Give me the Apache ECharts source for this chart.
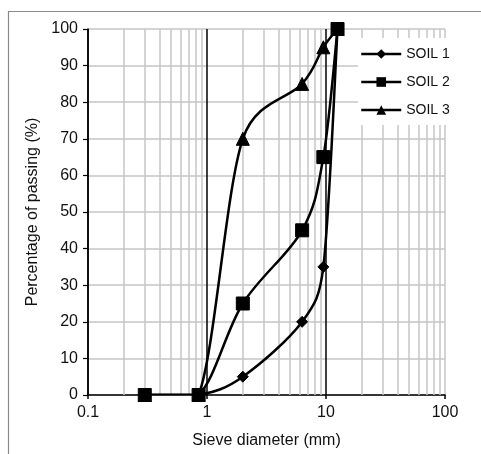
<!DOCTYPE html>
<html>
<head>
<meta charset="utf-8">
<script src="https://cdn.jsdelivr.net/npm/echarts@6/dist/echarts.min.js"></script>
<style>
html,body{margin:0;padding:0;background:#fff;}
#c{width:481px;height:454px;}
</style>
</head>
<body>
<div id="c"></div>
<script>
// ---- data ----
const sieveSizes = [0.3, 0.85, 2, 6.3, 9.5, 12.5];
const soil1 = [0, 0, 5, 20, 35, 100];
const soil2 = [0, 0, 25, 45, 65, 100];
const soil3 = [0, 0, 70, 85, 95, 100];
const seriesNames = ['SOIL 1', 'SOIL 2', 'SOIL 3'];
const xMajorTicks = [0.1, 1, 10, 100];
const xMinorTicks = [0.2,0.3,0.4,0.5,0.6,0.7,0.8,0.9,2,3,4,5,6,7,8,9,20,30,40,50,60,70,80,90];

const font = 'Liberation Sans, Arial, sans-serif';
const grayGrid = '#c6c6c6';

function pairs(ys){ return sieveSizes.map((x,i)=>[x, ys[i]]); }

// markers (and legend entries)
function markerSeries(name, ys, symbol, size){
  return {
    name: name, type: 'line', data: pairs(ys),
    symbol: symbol, symbolSize: size, z: 4,
    lineStyle: {color: '#000', width: 2.5, opacity: 0},
    itemStyle: {color: '#000', borderColor: '#000'},
    animation: false
  };
}

function dist(a, b){ return Math.hypot(a[0] - b[0], a[1] - b[1]); }

// smoothed curve (spreadsheet-style Bezier smoothing) drawn from the same data through the axes
function curveSeries(name, ys){
  return {
    name: name + ' curve', type: 'custom', data: pairs(ys), z: 3,
    encode: {x: 0, y: 1}, clip: true, silent: true, animation: false,
    renderItem: function(params, api){
      const i = params.dataIndex;
      const n = sieveSizes.length;
      if (i >= n - 1) return null;
      const pts = sieveSizes.map((x, j) => api.coord([x, ys[j]]));
      const p0 = pts[i - 1] || pts[i], p1 = pts[i], p2 = pts[i + 1], p3 = pts[i + 2] || pts[i + 1];
      const style = {stroke: '#000', lineWidth: 2.5, fill: null};
      if (ys[i] === ys[i + 1]) {
        return {type: 'line', shape: {x1: p1[0], y1: p1[1], x2: p2[0], y2: p2[1]}, style: style};
      }
      const d02 = dist(p0, p2), d12 = dist(p1, p2), d13 = dist(p1, p3);
      let f = 1 / 6, g = 1 / 6;
      if (d02 / 6 >= d12 / 2 && d02 > 0) f = d12 / d02 / 2;
      if (d13 / 6 >= d12 / 2 && d13 > 0) g = d12 / d13 / 2;
      return {
        type: 'bezierCurve',
        shape: {
          x1: p1[0], y1: p1[1], x2: p2[0], y2: p2[1],
          cpx1: p1[0] + (p2[0] - p0[0]) * f, cpy1: p1[1] + (p2[1] - p0[1]) * f,
          cpx2: p2[0] - (p3[0] - p1[0]) * g, cpy2: p2[1] - (p3[1] - p1[1]) * g
        },
        style: style
      };
    }
  };
}

const chart = echarts.init(document.getElementById('c'), null, {renderer: 'canvas'});
chart.setOption({
  backgroundColor: '#fff',
  animation: false,
  textStyle: {fontFamily: font},
  graphic: [{
    type: 'rect', silent: true, z: 0,
    shape: {x: 8.5, y: 11.5, width: 600, height: 600},
    style: {fill: 'none', stroke: '#8a8a8a', lineWidth: 1.2}
  }],
  grid: {left: 88, right: 36, top: 29, bottom: 56},
  legend: {
    data: seriesNames,
    orient: 'vertical',
    left: 358, top: 38, z: 10,
    backgroundColor: '#fff',
    padding: [9, 16, 8, 2],
    itemWidth: 40, itemHeight: 12, itemGap: 14,
    lineStyle: {color: '#000', width: 2.5, opacity: 1},
    textStyle: {fontFamily: font, fontSize: 14, color: '#111'}
  },
  xAxis: {
    type: 'log', logBase: 10, min: xMajorTicks[0], max: xMajorTicks[xMajorTicks.length-1],
    name: 'Sieve diameter (mm)', nameLocation: 'middle', nameGap: 38,
    nameTextStyle: {fontFamily: font, fontSize: 16, color: '#111'},
    axisLine: {onZero: false, lineStyle: {color: '#000', width: 1.5}},
    axisTick: {show: true, inside: false, length: 4, lineStyle: {color: '#000', width: 1.5}},
    axisLabel: {fontFamily: font, fontSize: 16, color: '#111', margin: 10,
      formatter: function(v){ return String(v); }},
    splitLine: {show: true, lineStyle: {color: ['#000', '#000', '#000', grayGrid], width: 1.5}},
    minorTick: {show: false}, minorSplitLine: {show: false}
  },
  yAxis: {
    type: 'value', min: 0, max: 100, interval: 10,
    name: 'Percentage of passing (%)', nameLocation: 'middle', nameGap: 47,
    nameTextStyle: {fontFamily: font, fontSize: 16, color: '#111'},
    axisLine: {show: true, lineStyle: {color: '#000', width: 1.5}},
    axisTick: {show: true, inside: false, length: 5, lineStyle: {color: '#000', width: 1.2}},
    axisLabel: {fontFamily: font, fontSize: 16, color: '#111', margin: 10},
    splitLine: {show: true, lineStyle: {color: grayGrid, width: 1.5}}
  },
  series: [
    {
      name: 'minor', type: 'line', data: [], z: 1, silent: true,
      markLine: {
        silent: true, symbol: 'none', animation: false, z: 1,
        label: {show: false},
        lineStyle: {color: grayGrid, width: 1.5, type: 'solid'},
        emphasis: {disabled: true},
        data: xMinorTicks.map(v => ({xAxis: v}))
      }
    },
    curveSeries(seriesNames[0], soil1),
    curveSeries(seriesNames[1], soil2),
    curveSeries(seriesNames[2], soil3),
    markerSeries(seriesNames[0], soil1, 'diamond', 11),
    markerSeries(seriesNames[1], soil2, 'rect', 13),
    markerSeries(seriesNames[2], soil3, 'triangle', 13)
  ]
});
</script>
</body>
</html>
